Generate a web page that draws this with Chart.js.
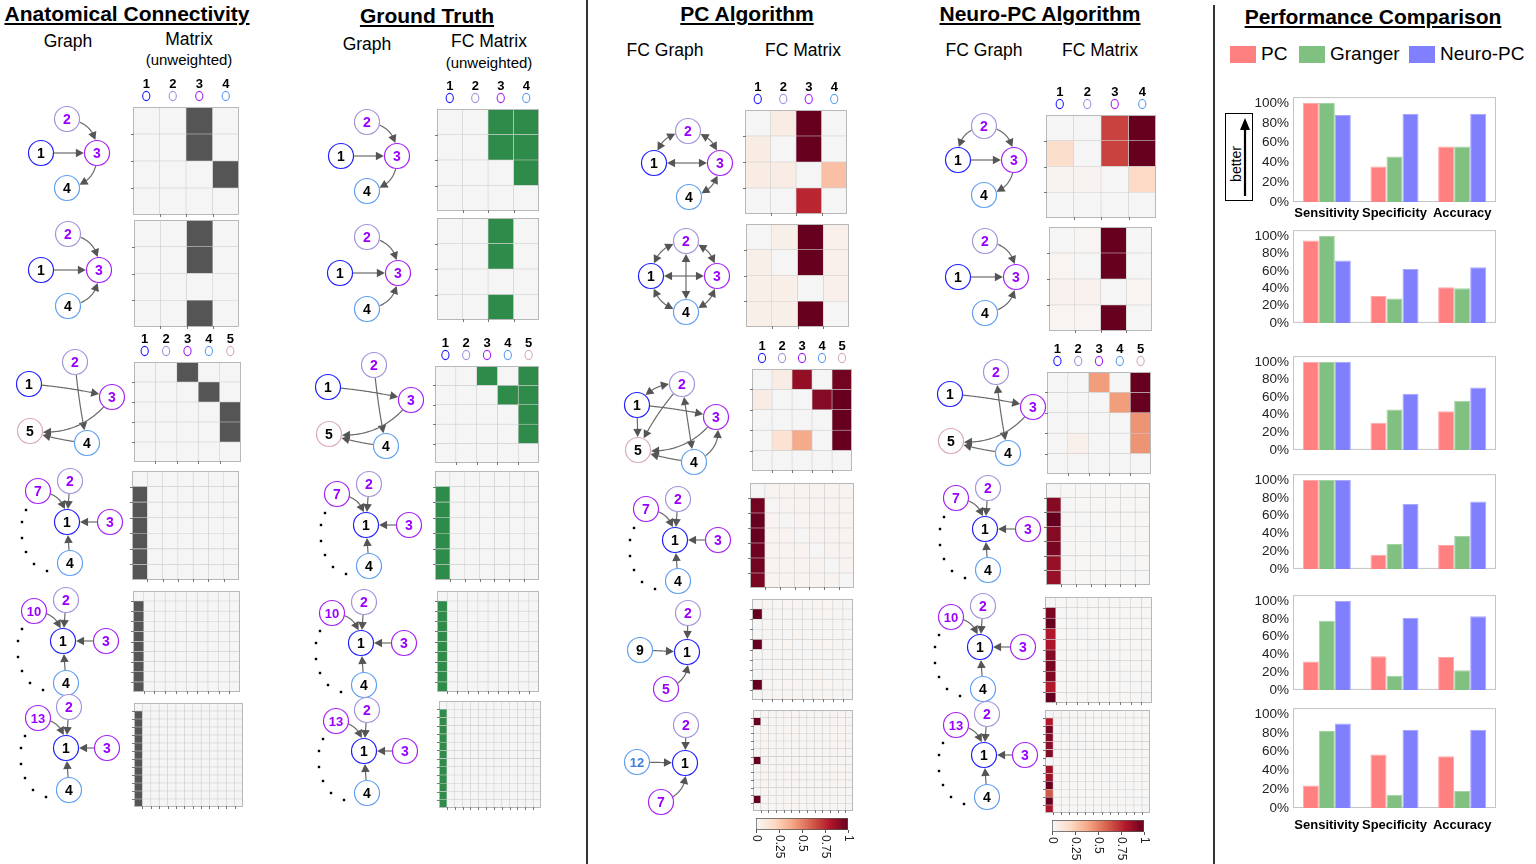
<!DOCTYPE html>
<html>
<head>
<meta charset="utf-8">
<title>Connectivity comparison</title>
<script src="https://cdn.jsdelivr.net/npm/chart.js@4.4.1/dist/chart.umd.min.js"></script>
<style>
  body { margin: 0; width: 1536px; height: 864px; position: relative; overflow: hidden; background: #fff;
         font-family: "Liberation Sans", Arial, sans-serif; color: #000; }
  canvas { position: absolute; }
  .t { position: absolute; white-space: nowrap; transform: translateX(-50%); line-height: 1.15; }
  .h { font-weight: bold; font-size: 21px; text-decoration: underline; }
  .s { font-size: 17.5px; }
  .u { font-size: 15px; }
  .vl { position: absolute; width: 1.5px; background: #333; }
  .sw { position: absolute; width: 26px; height: 17px; top: 46px; }
  .lg { position: absolute; top: 43px; font-size: 19px; }
</style>
</head>
<body>

<div class="t h" style="left:127px;top:2px">Anatomical Connectivity</div>
<div class="t s" style="left:68px;top:31px">Graph</div>
<div class="t s" style="left:189px;top:29px">Matrix</div>
<div class="t u" style="left:189px;top:51px">(unweighted)</div>

<div class="t h" style="left:427px;top:4px">Ground Truth</div>
<div class="t s" style="left:367px;top:34px">Graph</div>
<div class="t s" style="left:489px;top:31px">FC Matrix</div>
<div class="t u" style="left:489px;top:54px">(unweighted)</div>

<div class="t h" style="left:747px;top:2px">PC Algorithm</div>
<div class="t s" style="left:665px;top:40px">FC Graph</div>
<div class="t s" style="left:803px;top:40px">FC Matrix</div>

<div class="t h" style="left:1040px;top:2px">Neuro-PC Algorithm</div>
<div class="t s" style="left:984px;top:40px">FC Graph</div>
<div class="t s" style="left:1100px;top:40px">FC Matrix</div>

<div class="t h" style="left:1373px;top:5px">Performance Comparison</div>
<div class="sw" style="left:1230px;background:#ff8080"></div><div class="lg" style="left:1261px">PC</div>
<div class="sw" style="left:1299px;background:#80c080"></div><div class="lg" style="left:1330px">Granger</div>
<div class="sw" style="left:1409px;background:#8080ff"></div><div class="lg" style="left:1440px">Neuro-PC</div>

<div style="position:absolute;left:1225px;top:113px;width:26px;height:86px;border:1px solid #000"></div>
<div style="position:absolute;left:1236px;top:164px;transform:translate(-50%,-50%) rotate(-90deg);font-size:14px">better</div>
<svg style="position:absolute;left:1238px;top:118px" width="14" height="80">
  <line x1="7" y1="78" x2="7" y2="10" stroke="#000" stroke-width="2.2"/>
  <polygon points="7,0 2,12 12,12" fill="#000"/>
</svg>

<div class="vl" style="left:586px;top:0;height:864px"></div>
<div class="vl" style="left:1213px;top:5px;height:859px"></div>

<script>
// ---------- performance scores (%) : rows = the six test networks ----------
const metrics = ['Sensitivity', 'Specificity', 'Accuracy'];
const pcScores      = [[100, 36, 56], [95, 31, 41], [100, 31, 44], [100, 16, 27], [32, 38, 37], [24, 57, 55]];
const grangerScores = [[100, 46, 56], [100, 28, 40], [100, 46, 56], [100, 28, 37], [78, 16, 22], [82, 14, 18]];
const neuroScores   = [[88, 89, 89], [72, 62, 64], [100, 64, 71], [100, 73, 76], [100, 81, 83], [90, 83, 83]];
const pctTicks = [0, 20, 40, 60, 80, 100];
const colorbarTicks = [0, 0.25, 0.5, 0.75, 1];

// ---------- graph layouts: [label, dx, dy, ring], offsets from node 1 ----------
const chainLayout    = [['1', 0, 0, 'b'], ['2', 26, -34, 'l'], ['3', 56, 0, 'p'], ['4', 26, 35, 'c']];
const convergeLayout = [['1', 0, 0, 'b'], ['2', 27, -36, 'l'], ['3', 58, 0, 'p'], ['4', 27, 36, 'c']];
const fiveLayout     = [['1', 0, 0, 'b'], ['2', 46, -22, 'l'], ['3', 83, 13, 'p'], ['4', 58, 59, 'c'], ['5', 1, 47, 'k']];
const star7Layout    = [['1', 0, 0, 'b'], ['2', 3, -41, 'l'], ['3', 43, 0, 'p'], ['4', 3, 41, 'c'], ['7', -29, -31, 'p']];
const star10Layout   = [['1', 0, 0, 'b'], ['2', 3, -41, 'l'], ['3', 43, 0, 'p'], ['4', 3, 42, 'c'], ['10', -29, -30, 'p']];
const star13Layout   = [['1', 0, 0, 'b'], ['2', 3, -41, 'l'], ['3', 41, 0, 'p'], ['4', 3, 42, 'c'], ['13', -28, -30, 'p']];
const starDots       = [[-41, -12], [-45, 0], [-45, 16], [-41, 30], [-33, 42], [-20, 49]];
const pcChainLayout  = [['1', 0, 0, 'b'], ['2', 34, -32, 'l'], ['3', 66, 0, 'p'], ['4', 35, 34, 'c']];
const pcLoopLayout   = [['1', 0, 0, 'b'], ['2', 35, -35, 'l'], ['3', 66, 0, 'p'], ['4', 35, 36, 'c']];
const pcFiveLayout   = [['1', 0, 0, 'b'], ['2', 45, -21, 'l'], ['3', 79, 12, 'p'], ['4', 57, 57, 'c'], ['5', 1, 45, 'k']];
const pc10Layout     = [['1', 0, 0, 'b'], ['2', 1, -39, 'l'], ['9', -47, -2, 'c'], ['5', -21, 37, 'p']];
const pc13Layout     = [['1', 0, 0, 'b'], ['2', 1, -38, 'l'], ['12', -48, -1, 'q'], ['7', -24, 39, 'p']];

// ---------- edges: [from, to, bend, bidirectional] ----------
const chainEdges    = [['1', '3', 0], ['2', '3', -0.45], ['3', '4', -0.45]];
const convergeEdges = [['1', '3', 0], ['2', '3', -0.45], ['4', '3', 0.45]];
const fiveEdges     = [['1', '3', -0.04], ['2', '4', 0.03], ['3', '5', -0.3], ['4', '5', -0.06]];
const star7Edges    = [['2', '1', 0], ['3', '1', 0], ['4', '1', 0], ['7', '1', -0.45]];
const star10Edges   = [['2', '1', 0], ['3', '1', 0], ['4', '1', 0], ['10', '1', -0.45]];
const star13Edges   = [['2', '1', 0], ['3', '1', 0], ['4', '1', 0], ['13', '1', -0.45]];
const pcChainEdges  = [['1', '2', -0.4, 1], ['2', '3', -0.4, 1], ['1', '3', 0, 1], ['3', '4', -0.4, 1]];
const pcLoopEdges   = [['1', '2', -0.4, 1], ['2', '3', -0.4, 1], ['3', '4', -0.4, 1], ['4', '1', -0.4, 1], ['1', '3', 0, 1], ['2', '4', 0, 1]];
const pcFiveEdges   = [['1', '2', -0.3, 1], ['1', '3', -0.04], ['1', '5', 0], ['2', '5', 0.08], ['2', '4', 0, 1], ['3', '5', -0.3], ['4', '5', -0.06], ['4', '3', 0.45]];
const pc10Edges     = [['2', '1', 0], ['9', '1', 0], ['5', '1', 0.45]];
const pc13Edges     = [['2', '1', 0], ['12', '1', 0], ['7', '1', 0.45]];
const neuroChainEdges = [['2', '1', 0.45], ['2', '3', -0.45], ['1', '3', 0], ['3', '4', -0.45]];
const neuroFiveEdges  = [['1', '3', -0.04], ['2', '4', 0.03, 1], ['3', '5', -0.3], ['4', '5', -0.06]];

// ---------- connectivity matrices (row = source, column = target) ----------
const anatChain = [[0, 0, 1, 0], [0, 0, 1, 0], [0, 0, 0, 1], [0, 0, 0, 0]];
const anatConverge = [[0, 0, 1, 0], [0, 0, 1, 0], [0, 0, 0, 0], [0, 0, 1, 0]];
const anatFive = [[0, 0, 1, 0, 0], [0, 0, 0, 1, 0], [0, 0, 0, 0, 1], [0, 0, 0, 0, 1], [0, 0, 0, 0, 0]];
const truthChain = [[0, 0, 1, 1], [0, 0, 1, 1], [0, 0, 0, 1], [0, 0, 0, 0]];
const truthFive = [[0, 0, 1, 0, 1], [0, 0, 0, 1, 1], [0, 0, 0, 0, 1], [0, 0, 0, 0, 1], [0, 0, 0, 0, 0]];
const pcChain = [[0, 0.08, 1, 0], [0.08, 0, 1, 0], [0.08, 0.08, 0, 0.3], [0, 0, 0.76, 0]];
const pcLoop = [[0, 0.06, 1, 0.05], [0.06, 0, 1, 0.05], [0.06, 0.06, 0, 0.05], [0.06, 0.06, 1, 0]];
const pcFive = [[0, 0.08, 0.88, 0, 0.97], [0.08, 0, 0, 0.92, 1], [0, 0, 0, 0, 1], [0, 0.15, 0.38, 0, 1], [0, 0, 0, 0, 0]];
const neuroChain = [[0, 0, 0.68, 1], [0.18, 0, 0.68, 1], [0.03, 0.03, 0, 0.2], [0, 0, 0, 0]];
const neuroConverge = [[0, 0.02, 1, 0], [0.02, 0, 1, 0], [0.04, 0.04, 0, 0.02], [0.02, 0.02, 1, 0]];
const neuroFive = [[0, 0, 0.42, 0, 1], [0, 0, 0, 0.42, 1], [0, 0, 0, 0, 0.45], [0, 0.05, 0, 0, 0.45], [0, 0, 0, 0, 0]];
// star networks: weight of each row's link into node 1
const truthStar7  = [0, 1, 1, 1, 1, 1, 1];
const truthStar10 = [0, 1, 1, 1, 1, 1, 1, 1, 1, 1];
const truthStar13 = [0, 1, 1, 1, 1, 1, 1, 1, 1, 1, 1, 1, 1];
const pcStar7  = [0, 0.97, 1, 1, 0.98, 0.97, 0.95];
const pcStar10 = [0, 1, 0, 0, 1, 0, 0, 0, 1, 0];
const pcStar13 = [0, 1, 0, 0, 0, 0, 1, 0, 0, 0, 0, 1, 0];
const neuroStar7  = [0, 0.92, 1, 0.92, 0.95, 0.87, 0.87];
const neuroStar10 = [0, 0.95, 1, 0.8, 0.82, 0.92, 0.95, 0.93, 0.8, 1];
const neuroStar13 = [0, 0.8, 0.95, 0.92, 0.9, 0.92, 0, 0.85, 0.85, 1, 0.62, 1, 0.82];

// ---------- page layout ----------
const anatAnchors  = [[41, 153], [41, 270], [29, 384], [67, 522], [63, 641], [66, 748]];
const truthAnchors = [[341, 156], [340, 273], [328, 387], [366, 525], [361, 643], [364, 751]];
const pcAnchors    = [[654, 163], [651, 276], [637, 405], [675, 540], [687, 652], [685, 763]];
const neuroAnchors = [[958, 160], [958, 277], [950, 394], [985, 529], [980, 647], [984, 755]];
const anatBoxes  = [[133, 107, 239, 215], [134, 220, 239, 327], [134, 362, 241, 462], [132, 471, 239, 580], [133, 591, 240, 692], [134, 703, 243, 807]];
const truthBoxes = [[437, 109, 539, 211], [437, 218, 539, 320], [435, 366, 539, 463], [435, 471, 539, 580], [437, 591, 539, 692], [439, 701, 541, 808]];
const pcBoxes    = [[745, 110, 847, 214], [746, 224, 849, 327], [752, 369, 852, 471], [750, 483, 854, 588], [752, 599, 853, 700], [753, 710, 853, 811]];
const neuroBoxes = [[1046, 115, 1156, 218], [1049, 227, 1152, 331], [1047, 372, 1151, 474], [1046, 483, 1150, 585], [1045, 597, 1152, 703], [1045, 710, 1150, 813]];
const scoreTop  = [100, 233, 359, 477, 598, 711];
const scoreZero = [202, 326, 453, 572, 693, 808];

const rings = {
  b: { ring: '#1f1fff', text: '#000' },
  l: { ring: '#a393dc', text: '#9b00ff' },
  p: { ring: '#a422f5', text: '#9b00ff' },
  c: { ring: '#5f9ef0', text: '#000' },
  k: { ring: '#d9a9bd', text: '#000' },
  q: { ring: '#5f9ef0', text: '#3b7de0' }
};
const headerRings = ['b', 'l', 'p', 'c', 'k'];
const heatStops = ['#f7f7f7', '#fddbc7', '#f4a582', '#d6604d', '#b2182b', '#67001f'];

Chart.defaults.font.family = '"Liberation Sans", Arial, sans-serif';
Chart.defaults.animation = false;
Chart.defaults.responsive = false;
Chart.defaults.events = [];
Chart.defaults.plugins.legend.display = false;
Chart.defaults.plugins.tooltip.enabled = false;

function makeCanvas(left, top, w, h) {
  const cv = document.createElement('canvas');
  cv.width = w; cv.height = h;
  cv.style.left = left + 'px'; cv.style.top = top + 'px';
  document.body.appendChild(cv);
  return cv;
}

function hexRgb(h) { return [1, 3, 5].map(i => parseInt(h.substr(i, 2), 16)); }
function heat(v) {
  if (v <= 0) return '#f5f5f5';
  const s = Math.min(v, 1) * (heatStops.length - 1), i = Math.min(Math.floor(s), heatStops.length - 2), f = s - i;
  const a = hexRgb(heatStops[i]), b = hexRgb(heatStops[i + 1]);
  return 'rgb(' + a.map((x, k) => Math.round(x + (b[k] - x) * f)).join(',') + ')';
}
const grayPaint = v => v ? '#555555' : '#f5f5f5';
const greenPaint = v => v ? '#2e8b4a' : '#f5f5f5';

function hubMatrix(col, base) {
  return col.map((v, i) => col.map((_, j) => j === 0 ? v : (i === j ? 0 : base)));
}

// ---------- graph drawing ----------
function bez(a, c, b, t) {
  const u = 1 - t;
  return [u * u * a[0] + 2 * u * t * c[0] + t * t * b[0], u * u * a[1] + 2 * u * t * c[1] + t * t * b[1]];
}
function exitT(a, c, b, fromStart, r) {
  const o = fromStart ? a : b;
  for (let k = 0; k <= 500; k++) {
    const t = fromStart ? k / 500 : 1 - k / 500;
    const p = bez(a, c, b, t);
    if (Math.hypot(p[0] - o[0], p[1] - o[1]) >= r) return t;
  }
  return fromStart ? 0 : 1;
}
function arrowHead(ctx, tip, back) {
  const dx = tip[0] - back[0], dy = tip[1] - back[1], L = Math.hypot(dx, dy) || 1;
  const ux = dx / L, uy = dy / L, len = 8, w = 4.3;
  const bx = tip[0] - ux * len, by = tip[1] - uy * len;
  ctx.beginPath();
  ctx.moveTo(tip[0], tip[1]);
  ctx.lineTo(bx - uy * w, by + ux * w);
  ctx.lineTo(bx + uy * w, by - ux * w);
  ctx.closePath();
  ctx.fill();
}
function drawEdge(ctx, a, b, bend, both) {
  const c = [(a[0] + b[0]) / 2 - (b[1] - a[1]) * bend, (a[1] + b[1]) / 2 + (b[0] - a[0]) * bend];
  const R = 13;
  const tEnd = exitT(a, c, b, false, R), tEndBase = exitT(a, c, b, false, R + 7);
  const tStart = exitT(a, c, b, true, R), tStartBase = both ? exitT(a, c, b, true, R + 7) : tStart;
  ctx.beginPath();
  for (let k = 0; k <= 40; k++) {
    const p = bez(a, c, b, tStartBase + (tEndBase - tStartBase) * k / 40);
    if (k) ctx.lineTo(p[0], p[1]); else ctx.moveTo(p[0], p[1]);
  }
  ctx.stroke();
  arrowHead(ctx, bez(a, c, b, tEnd), bez(a, c, b, tEndBase));
  if (both) arrowHead(ctx, bez(a, c, b, tStart), bez(a, c, b, tStartBase));
}

function graphChart(anchor, nodes, edges, dots) {
  const W = 180, H = 140, ox = 65, oy = 65;
  const cv = makeCanvas(anchor[0] - ox, anchor[1] - oy, W, H);
  const netPlugin = {
    id: 'net',
    beforeDatasetsDraw(chart) {
      const { ctx, scales: { x, y } } = chart, pos = {};
      nodes.forEach(n => { pos[n[0]] = [x.getPixelForValue(n[1]), y.getPixelForValue(n[2])]; });
      ctx.save();
      ctx.strokeStyle = '#6a6a6a'; ctx.fillStyle = '#555'; ctx.lineWidth = 1.2;
      edges.forEach(e => drawEdge(ctx, pos[e[0]], pos[e[1]], e[2] || 0, e[3]));
      ctx.restore();
    },
    afterDatasetsDraw(chart) {
      const { ctx, scales: { x, y } } = chart;
      ctx.save();
      ctx.textAlign = 'center'; ctx.textBaseline = 'middle';
      nodes.forEach(n => {
        ctx.font = 'bold ' + (n[0].length > 1 ? 13 : 14) + 'px "Liberation Sans", Arial, sans-serif';
        ctx.fillStyle = rings[n[3]].text;
        ctx.fillText(n[0], x.getPixelForValue(n[1]), y.getPixelForValue(n[2]) + 1);
      });
      ctx.restore();
    }
  };
  new Chart(cv, {
    type: 'scatter',
    data: {
      datasets: [
        { data: nodes.map(n => ({ x: n[1], y: n[2] })), pointRadius: 12.5, pointBackgroundColor: '#fff',
          pointBorderColor: nodes.map(n => rings[n[3]].ring), pointBorderWidth: 1.2 },
        { data: (dots || []).map(d => ({ x: d[0], y: d[1] })), pointStyle: 'rect', pointRadius: 1.7,
          pointBackgroundColor: '#000', pointBorderWidth: 0 }
      ]
    },
    options: {
      layout: { padding: 0, autoPadding: false },
      scales: {
        x: { type: 'linear', display: false, min: -ox, max: W - ox },
        y: { type: 'linear', display: false, min: -oy, max: H - oy, reverse: true }
      }
    },
    plugins: [netPlugin]
  });
}

// ---------- matrices ----------
const cellFrame = {
  id: 'cellFrame',
  afterDatasetsDraw(chart) {
    const { ctx, chartArea: a } = chart, n = chart.data.labels.length;
    ctx.save();
    ctx.strokeStyle = '#b8b8b8'; ctx.lineWidth = 1;
    ctx.strokeRect(a.left + 0.5, a.top + 0.5, a.right - a.left - 1, a.bottom - a.top - 1);
    ctx.strokeStyle = '#777';
    ctx.beginPath();
    for (let i = 1; i < n; i++) {
      const yy = Math.round(a.top + (a.bottom - a.top) * i / n) + 0.5;
      ctx.moveTo(a.left - 2, yy); ctx.lineTo(a.left + 1, yy);
      const xx = Math.round(a.left + (a.right - a.left) * i / n) + 0.5;
      ctx.moveTo(xx, a.bottom - 1); ctx.lineTo(xx, a.bottom + 2);
    }
    ctx.stroke();
    ctx.restore();
  }
};
const colHeader = {
  id: 'colHeader',
  afterDraw(chart) {
    const { ctx, chartArea: a, scales: { x } } = chart, n = chart.data.labels.length;
    ctx.save();
    ctx.textAlign = 'center'; ctx.textBaseline = 'middle';
    ctx.font = 'bold 13px "Liberation Sans", Arial, sans-serif';
    for (let j = 0; j < n; j++) {
      const cx = x.getPixelForValue(j + 0.5);
      ctx.fillStyle = '#000';
      ctx.fillText(String(j + 1), cx, a.top - 23);
      ctx.strokeStyle = rings[headerRings[j]].ring; ctx.lineWidth = 1.1;
      ctx.beginPath(); ctx.ellipse(cx, a.top - 11, 3.6, 4.6, 0, 0, Math.PI * 2); ctx.stroke();
    }
    ctx.restore();
  }
};

function matrixChart(box, vals, paint, header) {
  const [l, t, r, b] = box, n = vals.length, padTop = header ? 32 : 0;
  const cv = makeCanvas(l - 4, t - padTop, r - l + 8, b - t + padTop + 4);
  const rows = vals.map((_, i) => i + 1);
  new Chart(cv, {
    type: 'bar',
    data: {
      labels: rows,
      datasets: vals.map((_, j) => ({
        data: rows.map(() => 1),
        backgroundColor: vals.map(row => paint(row[j])),
        borderColor: 'rgba(205,205,205,0.95)', borderWidth: 0.6, borderSkipped: false,
        categoryPercentage: 1, barPercentage: 1
      }))
    },
    options: {
      indexAxis: 'y',
      layout: { padding: { top: padTop, left: 4, right: 4, bottom: 4 } },
      scales: {
        x: { type: 'linear', stacked: true, display: false, min: 0, max: n },
        y: { stacked: true, display: false }
      }
    },
    plugins: header ? [cellFrame, colHeader] : [cellFrame]
  });
}

function colorbar(box) {
  const [l, t, r, b] = box;
  const cv = makeCanvas(l - 10, t, r - l + 20, b - t + 36);
  new Chart(cv, {
    type: 'bar',
    data: {
      labels: [''],
      datasets: [{
        data: [1], borderColor: '#555', borderWidth: 1, borderSkipped: false,
        categoryPercentage: 1, barPercentage: 1,
        backgroundColor(c) {
          const { ctx, chartArea } = c.chart;
          if (!chartArea) return '#fff';
          const g = ctx.createLinearGradient(chartArea.left, 0, chartArea.right, 0);
          heatStops.forEach((s, i) => g.addColorStop(i / (heatStops.length - 1), s));
          return g;
        }
      }]
    },
    options: {
      indexAxis: 'y',
      layout: { padding: { left: 10, right: 10, top: 0, bottom: 36 } },
      scales: { x: { type: 'linear', display: false, min: 0, max: 1 }, y: { display: false } }
    },
    plugins: [{
      id: 'cbTicks',
      afterDraw(chart) {
        const { ctx, chartArea: a, scales: { x } } = chart;
        ctx.save();
        ctx.strokeStyle = '#555'; ctx.fillStyle = '#222';
        ctx.font = '12px "Liberation Sans", Arial, sans-serif';
        ctx.textAlign = 'left'; ctx.textBaseline = 'middle';
        colorbarTicks.forEach(v => {
          const px = Math.round(x.getPixelForValue(v)) + 0.5;
          ctx.beginPath(); ctx.moveTo(px, a.bottom); ctx.lineTo(px, a.bottom + 3); ctx.stroke();
          ctx.save(); ctx.translate(px, a.bottom + 5); ctx.rotate(Math.PI / 2);
          ctx.fillText(String(v), 0, 0); ctx.restore();
        });
        ctx.restore();
      }
    }]
  });
}

// ---------- score bars ----------
const scoreFrame = {
  id: 'scoreFrame',
  beforeDatasetsDraw(chart) {
    const { ctx, chartArea: a } = chart;
    ctx.save();
    ctx.strokeStyle = '#c4c4c4'; ctx.lineWidth = 1;
    ctx.strokeRect(a.left + 0.5, a.top - 5.5, a.right - a.left - 1, a.bottom - a.top + 5);
    ctx.restore();
  }
};
function scoreChart(row) {
  const top = scoreTop[row], zero = scoreZero[row], labels = row === 0 || row === 5;
  const labelGap = row === 5 ? 10 : 4;
  const padTop = 9, axisH = labels ? 20 + labelGap : 0, padBottom = labels ? 6 : 9;
  const cv = makeCanvas(1248, top - padTop, 251, zero - top + padTop + axisH + padBottom);
  new Chart(cv, {
    type: 'bar',
    data: {
      labels: metrics,
      datasets: [
        { label: 'PC', data: pcScores[row], backgroundColor: '#ff8080', borderColor: '#ffa8a8', borderWidth: 1 },
        { label: 'Granger', data: grangerScores[row], backgroundColor: '#80c080', borderColor: '#a4d4a4', borderWidth: 1 },
        { label: 'Neuro-PC', data: neuroScores[row], backgroundColor: '#8080ff', borderColor: '#a8a8ff', borderWidth: 1 }
      ]
    },
    options: {
      layout: { padding: { top: padTop, right: 3, bottom: padBottom, left: 0 } },
      datasets: { bar: { categoryPercentage: 0.71, barPercentage: 1, borderSkipped: 'start' } },
      scales: {
        x: {
          display: labels, grid: { display: false, drawTicks: false }, border: { display: false },
          ticks: { color: '#000', font: { size: 13, weight: 'bold' }, padding: labelGap, maxRotation: 0, autoSkip: false },
          afterFit(s) { s.height = axisH; s.paddingLeft = 0; s.paddingRight = 0; }
        },
        y: {
          min: 0, max: 100, grid: { display: false, drawTicks: false }, border: { display: false },
          afterBuildTicks(s) { s.ticks = pctTicks.map(v => ({ value: v })); },
          ticks: { color: '#222', font: { size: 13.5 }, padding: 4, autoSkip: false, callback: v => v + '%' },
          afterFit(s) { s.width = 45; }
        }
      }
    },
    plugins: [scoreFrame]
  });
}

// ---------- build the figure ----------
const anatPanels  = [[chainLayout, chainEdges], [convergeLayout, convergeEdges], [fiveLayout, fiveEdges],
                     [star7Layout, star7Edges, starDots], [star10Layout, star10Edges, starDots], [star13Layout, star13Edges, starDots]];
const pcPanels    = [[pcChainLayout, pcChainEdges], [pcLoopLayout, pcLoopEdges], [pcFiveLayout, pcFiveEdges],
                     [star7Layout, star7Edges, starDots], [pc10Layout, pc10Edges], [pc13Layout, pc13Edges]];
const neuroPanels = [[chainLayout, neuroChainEdges], [convergeLayout, convergeEdges], [fiveLayout, neuroFiveEdges],
                     [star7Layout, star7Edges, starDots], [star10Layout, star10Edges, starDots], [star13Layout, star13Edges, starDots]];

anatPanels.forEach((p, i) => graphChart(anatAnchors[i], p[0], p[1], p[2]));
anatPanels.forEach((p, i) => graphChart(truthAnchors[i], p[0], p[1], p[2]));
pcPanels.forEach((p, i) => graphChart(pcAnchors[i], p[0], p[1], p[2]));
neuroPanels.forEach((p, i) => graphChart(neuroAnchors[i], p[0], p[1], p[2]));

const anatMats  = [anatChain, anatConverge, anatFive, hubMatrix(truthStar7, 0), hubMatrix(truthStar10, 0), hubMatrix(truthStar13, 0)];
const truthMats = [truthChain, anatConverge, truthFive, hubMatrix(truthStar7, 0), hubMatrix(truthStar10, 0), hubMatrix(truthStar13, 0)];
const pcMats    = [pcChain, pcLoop, pcFive, hubMatrix(pcStar7, 0.03), hubMatrix(pcStar10, 0.02), hubMatrix(pcStar13, 0.02)];
const neuroMats = [neuroChain, neuroConverge, neuroFive, hubMatrix(neuroStar7, 0.01), hubMatrix(neuroStar10, 0.01), hubMatrix(neuroStar13, 0.01)];

anatMats.forEach((m, i) => matrixChart(anatBoxes[i], m, grayPaint, i === 0 || i === 2));
truthMats.forEach((m, i) => matrixChart(truthBoxes[i], m, greenPaint, i === 0 || i === 2));
pcMats.forEach((m, i) => matrixChart(pcBoxes[i], m, heat, i === 0 || i === 2));
neuroMats.forEach((m, i) => matrixChart(neuroBoxes[i], m, heat, i === 0 || i === 2));

colorbar([756, 818, 848, 830]);
colorbar([1052, 820, 1144, 832]);

pcScores.forEach((_, i) => scoreChart(i));
</script>
</body>
</html>
